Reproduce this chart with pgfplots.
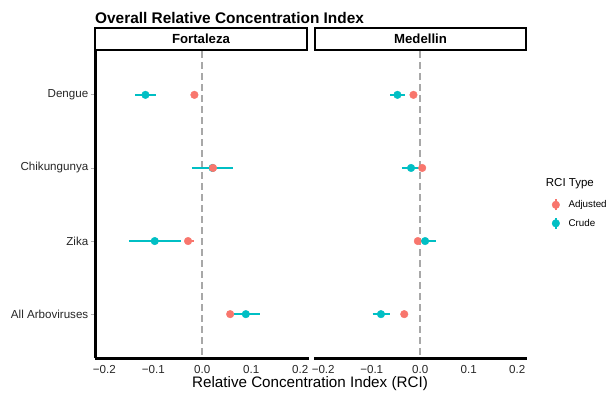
\documentclass[border=0pt]{standalone}
\usepackage{pgfplots}
\usepackage{pgfplotstable}
\pgfplotsset{compat=1.18}
\usepackage{fontspec}
\setmainfont{Liberation Sans}
\definecolor{adj}{HTML}{F8766D}
\definecolor{cru}{HTML}{00BFC4}
\definecolor{refgray}{HTML}{A8A8A8}

% x = RCI, y = category (1 Dengue, 2 Chikungunya, 3 Zika, 4 All)
\pgfplotstableread{
x y
-0.116 1
0.021 2
-0.097 3
0.089 4
}\fortcrude
\pgfplotstableread{
x y
-0.016 1
0.022 2
-0.029 3
0.057 4
}\fortadj
\pgfplotstableread{
x y
-0.047 1
-0.019 2
0.010 3
-0.081 4
}\medcrude
\pgfplotstableread{
x y
-0.014 1
0.004 2
-0.005 3
-0.033 4
}\medadj

\pgfplotsset{
  panel/.style={
    scale only axis, width=213pt, height=307pt,
    anchor=south west,
    ymin=0.4, ymax=4.6, y dir=reverse,
    xtick={-0.2,-0.1,0,0.1,0.2},
    xticklabels={−0.2,−0.1,0.0,0.1,0.2},
    xtick style={draw=none},
    tick align=outside, major tick length=5pt,
    ticklabel style={font=\fontsize{11.6}{13}\selectfont, text=black!85},
    xticklabel style={inner sep=2pt},
    yticklabel style={inner sep=2pt},
    axis line style={line width=3pt, -},
    clip=false, unbounded coords=jump,
  },
  pt/.style={only marks, color=#1, mark=*, mark size=3.8pt, mark options={draw=none, fill=#1}},
  ci/.style={color=#1, line width=1.5pt, forget plot, no markers},
}

\begin{document}
\begin{tikzpicture}
\useasboundingbox (0pt,0pt) rectangle (610pt,-393pt);

% title
\node[anchor=base west, inner sep=0pt, font=\bfseries\fontsize{15.4}{17}\selectfont] at (95pt,-23.5pt) {Overall Relative Concentration Index};

% strips
\draw[line width=2.2pt, fill=white] (95pt,-28pt) rectangle (307pt,-50pt);
\node[font=\bfseries\fontsize{13.2}{15}\selectfont] at (201pt,-39pt) {Fortaleza};
\draw[line width=2.2pt, fill=white] (315pt,-28pt) rectangle (526pt,-50pt);
\node[font=\bfseries\fontsize{13.2}{15}\selectfont] at (420.5pt,-39pt) {Medellin};

% left panel
\begin{axis}[panel, at={(95.5pt,-358pt)},
  xmin=-0.218, xmax=0.217,
  axis x line*=bottom, axis y line*=left,
  ytick={1,2,3,4},
  yticklabels={Dengue,Chikungunya,Zika,All Arboviruses},
  ytick style={draw=black!30, line width=0.8pt},
]
\addplot[refgray, line width=2pt, dash pattern=on 7pt off 4pt, forget plot] coordinates {(0,0.4) (0,4.6)};
\addplot[ci=cru] coordinates {(-0.137,1) (-0.094,1) (nan,nan) (-0.021,2) (0.062,2) (nan,nan) (-0.150,3) (-0.043,3) (nan,nan) (0.064,4) (0.117,4)};
\addplot[pt=cru] table[x=x, y=y] {\fortcrude};
\addplot[ci=adj] coordinates {(-0.020,1) (-0.012,1) (nan,nan) (0.017,2) (0.027,2) (nan,nan) (-0.035,3) (-0.016,3) (nan,nan) (0.052,4) (0.062,4)};
\addplot[pt=adj] table[x=x, y=y] {\fortadj};
\end{axis}

% right panel
\begin{axis}[panel, at={(314pt,-358pt)},
  xmin=-0.219, xmax=0.220,
  axis x line*=bottom, axis y line=none,
  ytick=\empty,
  legend style={at={(axis description cs:1.096,0.52)}, anchor=north west,
    draw=none, fill=none, inner sep=0pt,
    font=\fontsize{9.8}{11}\selectfont, row sep=6pt,
    nodes={inner sep=1.5pt}},
  legend cell align=left,
  legend image code/.code={\path (0pt,0pt) (19pt,0pt);
    \draw[line width=1.5pt] (8pt,-5.5pt)--(8pt,5.5pt);
    \fill (8pt,0pt) circle (3.8pt);},
]
\addplot[refgray, line width=2pt, dash pattern=on 7pt off 4pt, forget plot] coordinates {(0,0.4) (0,4.6)};
\addplot[ci=adj] coordinates {(-0.018,1) (-0.010,1) (nan,nan) (0.000,2) (0.008,2) (nan,nan) (-0.009,3) (-0.001,3) (nan,nan) (-0.037,4) (-0.029,4)};
\addplot[pt=adj] table[x=x, y=y] {\medadj};
\addlegendentry{Adjusted}
\addplot[ci=cru] coordinates {(-0.062,1) (-0.032,1) (nan,nan) (-0.038,2) (-0.002,2) (nan,nan) (-0.008,3) (0.033,3) (nan,nan) (-0.098,4) (-0.062,4)};
\addplot[pt=cru] table[x=x, y=y] {\medcrude};
\addlegendentry{Crude}
\end{axis}

% legend title and x label
\node[anchor=base west, inner sep=0pt, font=\fontsize{11.5}{13}\selectfont] at (545.7pt,-186.7pt) {RCI Type};
\node[anchor=base, inner sep=0pt, font=\fontsize{15.2}{17}\selectfont] at (310pt,-387pt) {Relative Concentration Index (RCI)};
\end{tikzpicture}
\end{document}
